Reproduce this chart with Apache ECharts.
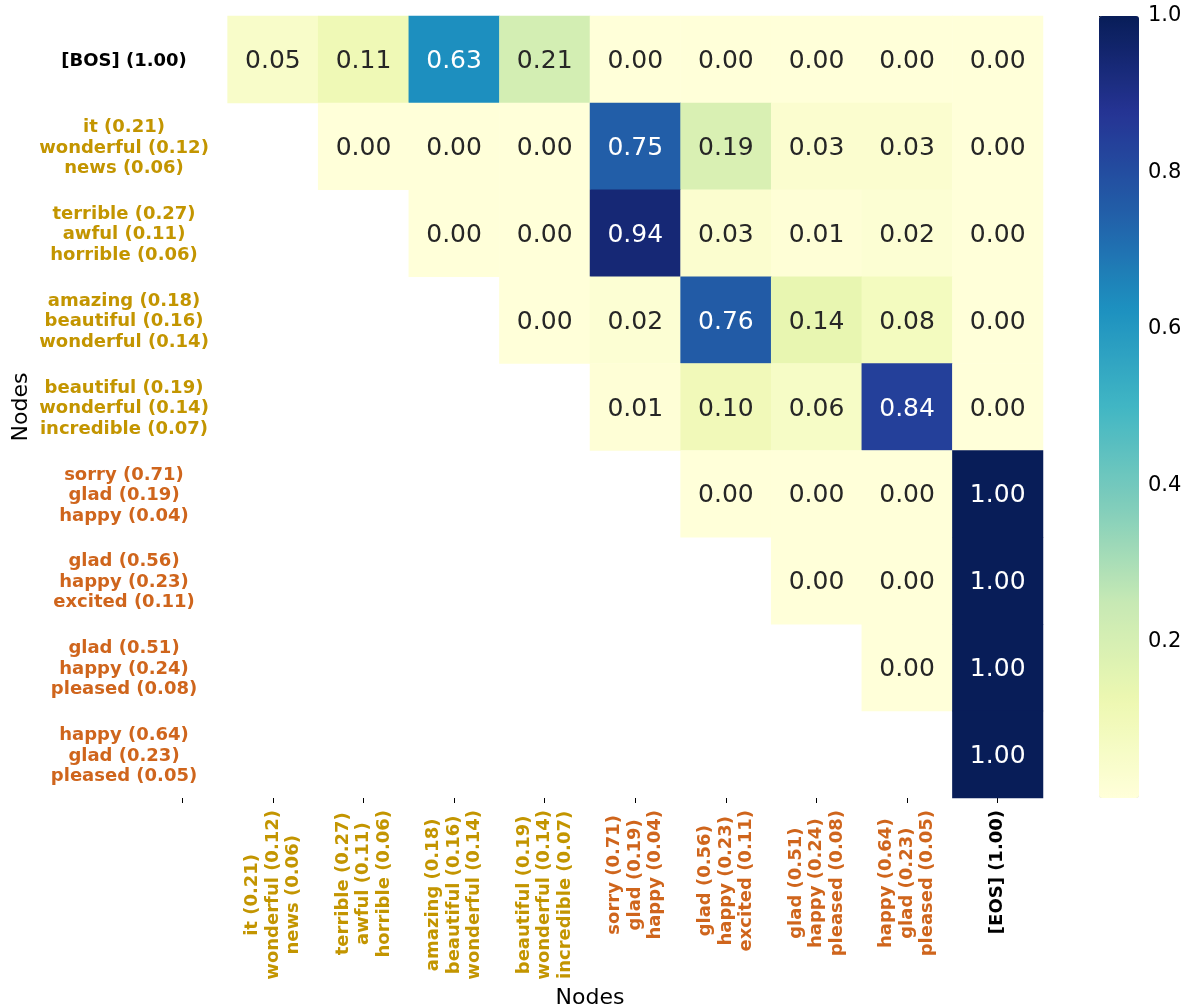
<!DOCTYPE html>
<html>
<head>
<meta charset="utf-8">
<script src="https://cdn.jsdelivr.net/npm/echarts@6/dist/echarts.min.js"></script>
<style>html,body{margin:0;padding:0;background:#fff}#c{width:1188px;height:1008px}</style>
</head>
<body>
<div id="c"></div>
<script>
// ---------- DATA ----------
const xLabels = [
  '',
  'it (0.21)\nwonderful (0.12)\nnews (0.06)',
  'terrible (0.27)\nawful (0.11)\nhorrible (0.06)',
  'amazing (0.18)\nbeautiful (0.16)\nwonderful (0.14)',
  'beautiful (0.19)\nwonderful (0.14)\nincredible (0.07)',
  'sorry (0.71)\nglad (0.19)\nhappy (0.04)',
  'glad (0.56)\nhappy (0.23)\nexcited (0.11)',
  'glad (0.51)\nhappy (0.24)\npleased (0.08)',
  'happy (0.64)\nglad (0.23)\npleased (0.05)',
  '[EOS] (1.00)'
];
const yLabels = [
  '[BOS] (1.00)',
  'it (0.21)\nwonderful (0.12)\nnews (0.06)',
  'terrible (0.27)\nawful (0.11)\nhorrible (0.06)',
  'amazing (0.18)\nbeautiful (0.16)\nwonderful (0.14)',
  'beautiful (0.19)\nwonderful (0.14)\nincredible (0.07)',
  'sorry (0.71)\nglad (0.19)\nhappy (0.04)',
  'glad (0.56)\nhappy (0.23)\nexcited (0.11)',
  'glad (0.51)\nhappy (0.24)\npleased (0.08)',
  'happy (0.64)\nglad (0.23)\npleased (0.05)'
];
const row0 = [null, 0.05, 0.11, 0.63, 0.21, 0.00, 0.00, 0.00, 0.00, 0.00];
const row1 = [null, null, 0.00, 0.00, 0.00, 0.75, 0.19, 0.03, 0.03, 0.00];
const row2 = [null, null, null, 0.00, 0.00, 0.94, 0.03, 0.01, 0.02, 0.00];
const row3 = [null, null, null, null, 0.00, 0.02, 0.76, 0.14, 0.08, 0.00];
const row4 = [null, null, null, null, null, 0.01, 0.10, 0.06, 0.84, 0.00];
const row5 = [null, null, null, null, null, null, 0.00, 0.00, 0.00, 1.00];
const row6 = [null, null, null, null, null, null, null, 0.00, 0.00, 1.00];
const row7 = [null, null, null, null, null, null, null, null, 0.00, 1.00];
const row8 = [null, null, null, null, null, null, null, null, null, 1.00];
const colorbarTicks = [0.2, 0.4, 0.6, 0.8, 1.0];
const rows = [row0, row1, row2, row3, row4, row5, row6, row7, row8];

// ---------- STYLE ----------
const FONT = 'DejaVu Sans';
const GOLD = '#c39500';
const ORANGE = '#cf651c';
const BLACK = '#000000';
const xColors = [BLACK, GOLD, GOLD, GOLD, GOLD, ORANGE, ORANGE, ORANGE, ORANGE, BLACK];
const yColors = [BLACK, GOLD, GOLD, GOLD, GOLD, ORANGE, ORANGE, ORANGE, ORANGE];
const YlGnBu = ['#ffffd9','#edf8b1','#c7e9b4','#7fcdbb','#41b6c4','#1d91c0','#225ea8','#253494','#081d58'];
const TICK_FS = 18, TICK_LH = 20.5;

const data = [];
rows.forEach((r, yi) => r.forEach((v, xi) => {
  if (v === null) return;
  data.push({ value: [xi, yi, v], label: { color: v > 0.5 ? '#ffffff' : '#262626' } });
}));

function centeredLines(s) {
  if (!s) return '';
  return s.split('\n').map(l => '{c|' + l + '}').join('\n');
}
function richFor(color, width) {
  const c = { align: 'center', fontFamily: FONT, fontWeight: 'bold', fontSize: TICK_FS, lineHeight: TICK_LH, color: color };
  if (width) c.width = width;
  return { c: c };
}

const Y_BLOCK = 200;

const chart = echarts.init(document.getElementById('c'), null, { renderer: 'canvas' });
chart.setOption({
  animation: false,
  backgroundColor: '#ffffff',
  grid: [
    { left: 137, right: 145, top: 16, bottom: 210, containLabel: false, outerBoundsMode: 'none' },
    { left: 1099, width: 40, top: 16, height: 782, containLabel: false, outerBoundsMode: 'none' }
  ],
  xAxis: [
    {
      type: 'category', gridIndex: 0,
      data: xLabels.map((l, i) => ({ value: l, textStyle: { color: xColors[i], rich: richFor(xColors[i]) } })),
      axisLine: { show: false },
      axisTick: { show: true, alignWithLabel: true, length: 5, lineStyle: { color: '#000', width: 1 } },
      axisLabel: {
        interval: 0, rotate: 90, margin: 12, hideOverlap: false,
        fontFamily: FONT, fontWeight: 'bold', fontSize: TICK_FS, lineHeight: TICK_LH,
        formatter: centeredLines
      },
      splitLine: { show: false },
      name: 'Nodes', nameLocation: 'middle', nameGap: 189, nameMoveOverlap: false,
      nameTextStyle: { fontFamily: FONT, fontSize: 22, color: '#000' }
    },
    { type: 'value', gridIndex: 1, show: false, min: 0, max: 1 }
  ],
  yAxis: [
    {
      type: 'category', gridIndex: 0, inverse: true,
      data: yLabels.map((l, i) => ({ value: l, textStyle: { color: yColors[i], rich: richFor(yColors[i], Y_BLOCK) } })),
      axisLine: { show: false },
      axisTick: { show: false },
      axisLabel: {
        interval: 0, margin: 137 - (124 + Y_BLOCK / 2), hideOverlap: false,
        padding: [3, 0, 0, 0],
        fontFamily: FONT, fontWeight: 'bold', fontSize: TICK_FS, lineHeight: TICK_LH,
        formatter: centeredLines
      },
      splitLine: { show: false },
      name: 'Nodes', nameLocation: 'middle', nameGap: 105, nameRotate: 90, nameMoveOverlap: false,
      nameTextStyle: { fontFamily: FONT, fontSize: 22, color: '#000' }
    },
    {
      type: 'value', gridIndex: 1, position: 'right', min: 0, max: 1,
      axisLine: { show: false },
      axisTick: { show: true, length: 5, customValues: colorbarTicks, lineStyle: { color: '#000' } },
      axisLabel: { show: true, margin: 9, customValues: colorbarTicks, formatter: v => v.toFixed(1),
        fontFamily: FONT, fontSize: 21, color: '#000' },
      splitLine: { show: false }
    }
  ],
  visualMap: {
    type: 'continuous', min: 0, max: 1, calculable: false, seriesIndex: 0,
    orient: 'vertical', left: 1099, top: 16, itemWidth: 40, itemHeight: 782,
    padding: 0, text: null, showLabel: false, hoverLink: false,
    inRange: { color: YlGnBu }
  },
  series: [{
    type: 'heatmap', xAxisIndex: 0, yAxisIndex: 0,
    data: data,
    label: { show: true, formatter: p => p.value[2].toFixed(2), fontFamily: FONT, fontSize: 25, offset: [0, 2] },
    itemStyle: { borderWidth: 0 },
    emphasis: { disabled: true }
  }]
});
</script>
</body>
</html>
